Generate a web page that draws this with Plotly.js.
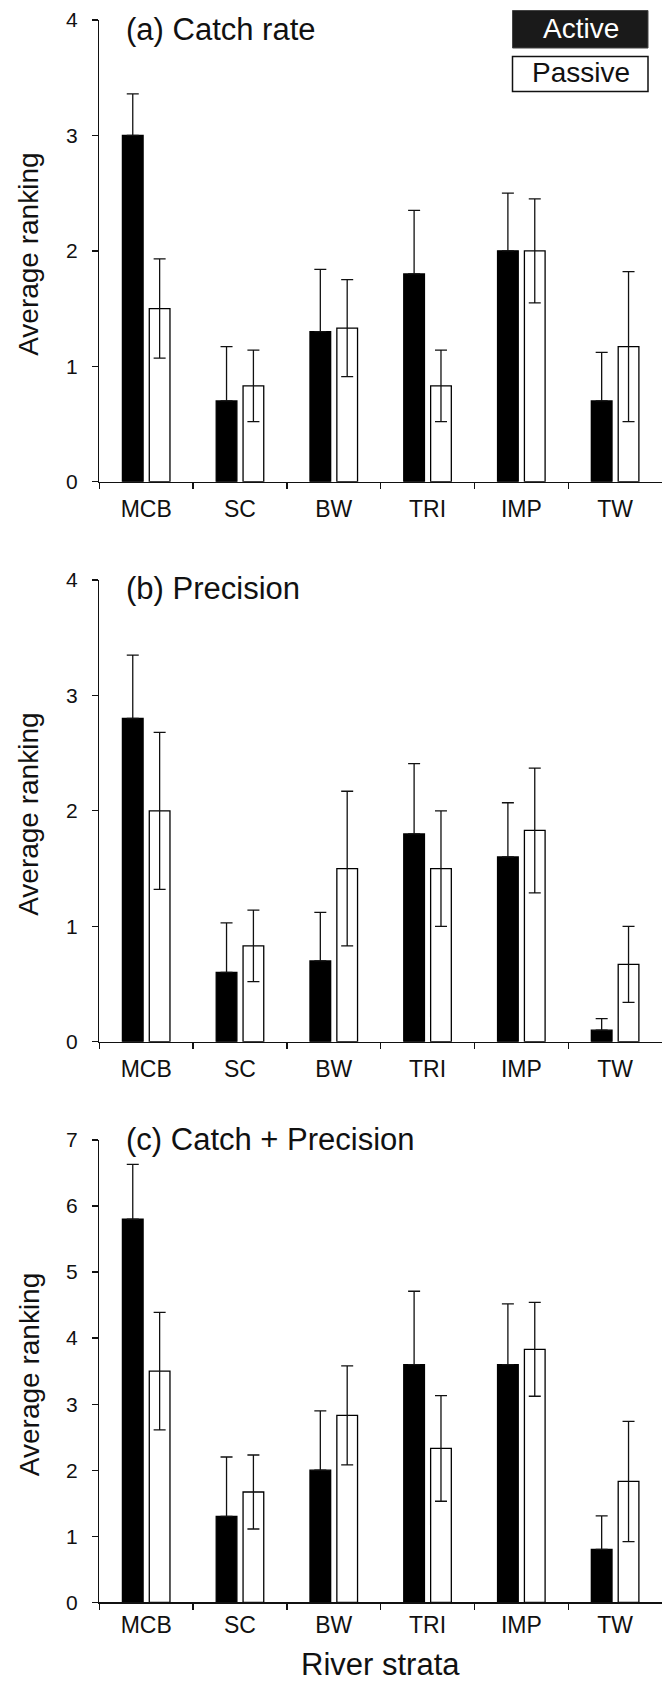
<!DOCTYPE html>
<html>
<head>
<meta charset="utf-8">
<script src="https://cdn.plot.ly/plotly-3.0.1.min.js"></script>
<style>
  html, body { margin: 0; padding: 0; background: #ffffff; }
  #chart { width: 662px; height: 1685px; }
</style>
</head>
<body>
<div id="chart"></div>
<script>
// ---- Data ----
const categories = ['MCB', 'SC', 'BW', 'TRI', 'IMP', 'TW'];
const seriesNames = ['Active', 'Passive'];
const panelTitles = ['(a) Catch rate', '(b) Precision', '(c) Catch + Precision'];

// (a) Catch rate
const catchActive     = [3.0, 0.7, 1.3, 1.8, 2.0, 0.7];
const catchActiveErr  = [0.36, 0.47, 0.54, 0.55, 0.50, 0.42];
const catchPassive    = [1.5, 0.83, 1.33, 0.83, 2.0, 1.17];
const catchPassiveErr = [0.43, 0.31, 0.42, 0.31, 0.45, 0.65];

// (b) Precision
const precActive     = [2.8, 0.6, 0.7, 1.8, 1.6, 0.1];
const precActiveErr  = [0.55, 0.43, 0.42, 0.61, 0.47, 0.10];
const precPassive    = [2.0, 0.83, 1.5, 1.5, 1.83, 0.67];
const precPassiveErr = [0.68, 0.31, 0.67, 0.50, 0.54, 0.33];

// (c) Catch + Precision
const combActive     = [5.8, 1.3, 2.0, 3.6, 3.6, 0.8];
const combActiveErr  = [0.83, 0.90, 0.90, 1.11, 0.92, 0.51];
const combPassive    = [3.5, 1.67, 2.83, 2.33, 3.83, 1.83];
const combPassiveErr = [0.89, 0.56, 0.75, 0.80, 0.71, 0.91];

const noDown = [0, 0, 0, 0, 0, 0];

const yMax = [4, 4, 7];
const yTickVals = [[0,1,2,3,4],[0,1,2,3,4],[0,1,2,3,4,5,6,7]];

// ---- Layout helpers (pixel -> paper) ----
const W = 662, H = 1685;
const px = v => v / W;
const py = v => 1 - v / H;

const FONT = 'Liberation Sans, Arial, Helvetica, sans-serif';
const INK = '#111111';

// panel vertical pixel extents [top, bottom]
const panelPx = [[20, 481.7], [580, 1041.7], [1140, 1602.3]];
const titleCenterPx = [29, 588.5, 1139];
const axisLeft = 99.3;

const panels = [
  [catchActive, catchActiveErr, catchPassive, catchPassiveErr],
  [precActive, precActiveErr, precPassive, precPassiveErr],
  [combActive, combActiveErr, combPassive, combPassiveErr]
];

const traces = [];
panels.forEach((p, i) => {
  const xa = i === 0 ? 'x' : 'x' + (i + 1);
  const ya = i === 0 ? 'y' : 'y' + (i + 1);
  traces.push({
    type: 'bar', name: seriesNames[0], x: categories, y: p[0],
    xaxis: xa, yaxis: ya,
    marker: { color: '#000000', line: { color: '#000000', width: 1.3 } },
    error_y: { type: 'data', symmetric: false, array: p[1], arrayminus: noDown,
               color: INK, thickness: 1.3, width: 6 },
    hoverinfo: 'skip'
  });
  traces.push({
    type: 'bar', name: seriesNames[1], x: categories, y: p[2],
    xaxis: xa, yaxis: ya,
    marker: { color: '#ffffff', line: { color: '#000000', width: 1.3 } },
    error_y: { type: 'data', symmetric: true, array: p[3],
               color: INK, thickness: 1.3, width: 6 },
    hoverinfo: 'skip'
  });
});

const layout = {
  width: W, height: H,
  margin: { l: 0, r: 0, t: 0, b: 0 },
  paper_bgcolor: '#ffffff', plot_bgcolor: '#ffffff',
  showlegend: false,
  barmode: 'group', bargap: 0.427, bargroupgap: 0.23,
  font: { family: FONT, color: INK },
  shapes: [], annotations: []
};

panels.forEach((p, i) => {
  const sfx = i === 0 ? '' : String(i + 1);
  const [top, bot] = panelPx[i];
  layout['xaxis' + sfx] = {
    anchor: 'y' + sfx, domain: [px(axisLeft), 1],
    type: 'category', range: [-0.5, 5.5],
    showline: true, linecolor: INK, linewidth: 1.3,
    ticks: 'outside', tickson: 'boundaries', ticklen: 6, tickwidth: 1.3, tickcolor: INK,
    showgrid: false, zeroline: false,
    tickfont: { family: FONT, size: 23, color: INK },
    ticklabelstandoff: i === 2 ? 2 : 6,
    fixedrange: true
  };
  layout['yaxis' + sfx] = {
    anchor: 'x' + sfx, domain: [py(bot), py(top)],
    range: [0, yMax[i]], tickvals: yTickVals[i],
    showline: true, linecolor: INK, linewidth: 1.3,
    ticks: 'outside', ticklen: 6, tickwidth: 1.3, tickcolor: INK,
    showgrid: false, zeroline: false,
    tickfont: { family: FONT, size: 21, color: INK },
    ticklabelstandoff: 10,
    fixedrange: true
  };
  // panel title
  layout.annotations.push({
    xref: 'paper', yref: 'paper', x: px(124), y: py(titleCenterPx[i]),
    xanchor: 'left', yanchor: 'middle', showarrow: false,
    text: panelTitles[i], font: { family: FONT, size: 31, color: INK }
  });
  // y axis title
  layout.annotations.push({
    xref: 'paper', yref: 'paper', x: px(29), y: py((top + bot) / 2 + 4),
    xanchor: 'center', yanchor: 'middle', showarrow: false, textangle: -90,
    text: 'Average ranking', font: { family: FONT, size: 28, color: INK }
  });
});

// x axis title
layout.annotations.push({
  xref: 'paper', yref: 'paper', x: px(380), y: py(1664),
  xanchor: 'center', yanchor: 'middle', showarrow: false,
  text: 'River strata', font: { family: FONT, size: 31, color: INK }
});

// legend boxes
layout.shapes.push({
  type: 'rect', xref: 'paper', yref: 'paper',
  x0: px(512.5), x1: px(648), y0: py(48), y1: py(10.5),
  fillcolor: '#1a1a1a', line: { color: '#444444', width: 1 }
});
layout.shapes.push({
  type: 'rect', xref: 'paper', yref: 'paper',
  x0: px(512.5), x1: px(648), y0: py(91.5), y1: py(56.5),
  fillcolor: '#ffffff', line: { color: INK, width: 1.5 }
});
layout.annotations.push({
  xref: 'paper', yref: 'paper', x: px(580.5), y: py(28.5),
  xanchor: 'center', yanchor: 'middle', showarrow: false,
  text: seriesNames[0], font: { family: FONT, size: 28, color: '#ffffff' }
});
layout.annotations.push({
  xref: 'paper', yref: 'paper', x: px(580.5), y: py(72.5),
  xanchor: 'center', yanchor: 'middle', showarrow: false,
  text: seriesNames[1], font: { family: FONT, size: 28, color: INK }
});

Plotly.newPlot('chart', traces, layout, { staticPlot: true, displayModeBar: false });
</script>
</body>
</html>
